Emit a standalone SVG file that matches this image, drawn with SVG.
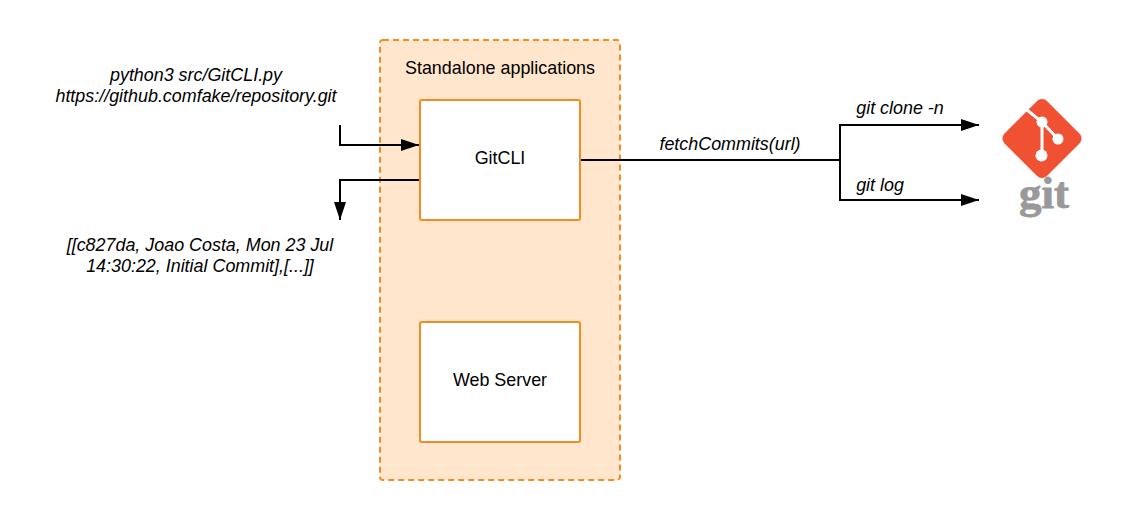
<svg xmlns="http://www.w3.org/2000/svg" width="1142" height="520" viewBox="0 0 1142 520">
<style>
text{font-family:"Liberation Sans",Arial,sans-serif;font-size:17.900px;fill:#000}
.c{text-anchor:middle}
.i{font-style:italic}
.box{fill:#fff;stroke:#ef8d22;stroke-width:2}
.w{fill:none;stroke:#000;stroke-width:2}
.g{stroke:#fff;stroke-width:3;fill:none}
</style>
<defs><marker id="a" markerUnits="userSpaceOnUse" markerWidth="20" markerHeight="14" refX="18" refY="6" orient="auto" viewBox="0 0 20 14"><path d="M0 0L18 6L0 12Z" fill="#000"/></marker></defs>
<rect width="1142" height="520" fill="#fff"/>
<g id="standalone"><rect x="380" y="40" width="240" height="440" rx="3" fill="#ffe6cc" stroke="#ef8d22" stroke-width="2" stroke-dasharray="6 4"/><text class="c" x="500" y="74">Standalone applications</text></g>
<g id="gitcli"><rect class="box" x="420" y="100" width="160" height="120" rx="2"/><text class="c" x="500" y="164">GitCLI</text></g>
<g id="webserver"><rect class="box" x="420" y="322" width="160" height="120" rx="2"/><text class="c" x="500" y="386">Web Server</text></g>
<g id="connectors">
<path class="w" marker-end="url(#a)" d="M340 125V145H419"/>
<path class="w" marker-end="url(#a)" d="M419 180H340V220"/>
<path class="w" d="M581 160H840"/>
<path class="w" marker-end="url(#a)" d="M840 160V125H979"/>
<path class="w" marker-end="url(#a)" d="M840 160V200H979"/>
</g>
<g id="labels">
<text class="c i" x="196" y="81">python3 src/GitCLI.py</text>
<text class="c i" x="196" y="102">https://github.comfake/repository.git</text>
<text class="c i" x="200" y="251">[[c827da, Joao Costa, Mon 23 Jul</text>
<text class="c i" x="200" y="272">14:30:22, Initial Commit],[...]]</text>
<text class="c i" x="730" y="150">fetchCommits(url)</text>
<text class="c i" x="900" y="114">git clone -n</text>
<text class="c i" x="880" y="191">git log</text>
</g>
<g id="git">
<rect x="1012" y="108.500" width="60" height="60" rx="7" fill="#f05133" transform="rotate(45 1042 138.500)"/>
<path class="g" d="M1027 110L1042 122L1058 139M1042 122V155"/>
<circle cx="1042" cy="122" r="5.500" fill="#fff"/><circle cx="1058" cy="139" r="5.500" fill="#fff"/><circle cx="1041.500" cy="155.500" r="6" fill="#fff"/>
<text class="c" x="1044" y="208" style="font-family:'Liberation Serif',serif;font-weight:700;font-size:45px;fill:#999;stroke:#999;stroke-width:.8">git</text>
</g>
</svg>
